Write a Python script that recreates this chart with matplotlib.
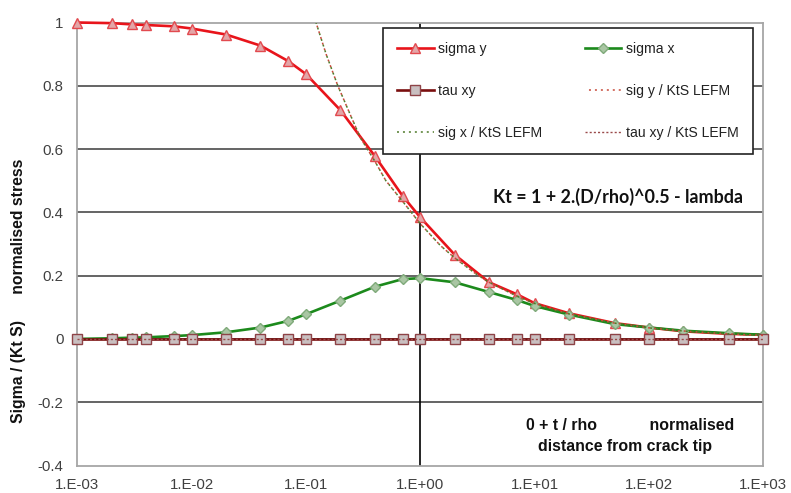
import matplotlib
matplotlib.use("Agg")
import matplotlib.pyplot as plt
from matplotlib.ticker import FixedLocator, NullLocator

plt.rcParams['font.family'] = ['Liberation Sans', 'DejaVu Sans']

# normalised distance from crack tip, t / rho
x = [0.001, 0.002, 0.003, 0.004, 0.007, 0.01, 0.02, 0.04, 0.07, 0.1, 0.2, 0.4,
     0.7, 1, 2, 4, 7, 10, 20, 50, 100, 200, 500, 1000]
sigma_y = [1.0, 0.998, 0.994, 0.992, 0.988, 0.981, 0.962, 0.927, 0.878, 0.837,
           0.723, 0.578, 0.452, 0.384, 0.266, 0.179, 0.141, 0.113, 0.081, 0.050,
           0.036, 0.024, 0.016, 0.013]
sigma_x = [0.0, 0.002, 0.004, 0.005, 0.009, 0.012, 0.021, 0.036, 0.057, 0.078,
           0.121, 0.165, 0.189, 0.192, 0.179, 0.148, 0.123, 0.104, 0.077, 0.047,
           0.036, 0.026, 0.018, 0.013]
tau_xy = [0.0] * len(x)

# LEFM solution normalised by Kt.S
x_lefm = [0.1, 0.12, 0.15, 0.19, 0.25, 0.3, 0.4, 0.5, 0.7, 1, 1.5, 2, 3, 4, 7,
          10, 20, 50, 100, 200, 500, 1000]
sig_lefm = [1.11, 1.01, 0.90, 0.80, 0.70, 0.635, 0.562, 0.50, 0.435, 0.364,
            0.295, 0.256, 0.208, 0.179, 0.135, 0.112, 0.079, 0.050, 0.035,
            0.025, 0.016, 0.011]
tau_lefm = [0.0] * len(x)

x_ticks = [1e-3, 1e-2, 1e-1, 1e0, 1e1, 1e2, 1e3]
x_tick_labels = ["1.E-03", "1.E-02", "1.E-01", "1.E+00", "1.E+01", "1.E+02", "1.E+03"]
y_ticks = [-0.4, -0.2, 0, 0.2, 0.4, 0.6, 0.8, 1]
y_tick_labels = ["-0.4", "-0.2", "0", "0.2", "0.4", "0.6", "0.8", "1"]

W, H = 791, 493
fig = plt.figure(figsize=(W / 100, H / 100), dpi=100)
L, R, T, B = 77.3, 763.3, 22.5, 465.5
ax = fig.add_axes([L / W, 1 - B / H, (R - L) / W, (B - T) / H])

ax.set_xscale("log")
ax.set_xlim(1e-3, 1e3)
ax.set_ylim(-0.4, 1.0)

for yv in [0.8, 0.6, 0.4, 0.2, 0.0, -0.2]:
    ax.axhline(yv, color="#3a3a3a", lw=1.1, zorder=1)
ax.axvline(1.0, color="#000000", lw=1.2, zorder=1)

l_sy, = ax.plot(x, sigma_y, color="#E8141B", lw=1.9, marker="^", ms=7.5,
                mfc="#E3A6A8", mec="#E24A4F", mew=1.0, zorder=3, clip_on=False,
                label="sigma y")
l_sx, = ax.plot(x, sigma_x, color="#1C8A1C", lw=1.9, marker="D", ms=5.5,
                mfc="#A9C6A3", mec="#7FAA7A", mew=1.0, zorder=4, clip_on=False,
                label="sigma x")
l_t, = ax.plot(x, tau_xy, color="#7A0E0E", lw=1.9, marker="s", ms=7,
               mfc="#C9BFC0", mec="#8E4347", mew=1.0, zorder=5, clip_on=False,
               label="tau xy")
l_syl, = ax.plot(x_lefm, sig_lefm, color="#C84A3A", lw=1.1,
                 ls=(1.3, (1.3, 2.6)), zorder=6, label="sig y / KtS LEFM")
l_sxl, = ax.plot(x_lefm, sig_lefm, color="#4F7A2A", lw=1.1,
                 ls=(0, (1.3, 2.6)), zorder=6, label="sig x / KtS LEFM")
l_tl, = ax.plot(x, tau_lefm, color="#9A4A4A", lw=1.0,
                ls=(0, (1.5, 1.5)), zorder=6, label="tau xy / KtS LEFM")

ax.xaxis.set_major_locator(FixedLocator(x_ticks))
ax.xaxis.set_minor_locator(NullLocator())
ax.set_xticklabels(x_tick_labels)
ax.set_yticks(y_ticks)
ax.set_yticklabels(y_tick_labels)
ax.tick_params(axis="both", length=0, labelsize=10.8, colors="#404040")
ax.tick_params(axis="y", pad=10)
ax.tick_params(axis="x", pad=9)

for s in ax.spines.values():
    s.set_color("#A6A6A6")
    s.set_linewidth(1.3)
    s.set_zorder(2)

handles = [l_sy, l_t, l_sxl, l_sx, l_syl, l_tl]
leg = ax.legend(handles=handles, labels=[h.get_label() for h in handles],
                ncol=2, loc="upper left",
                bbox_to_anchor=((383 - L) / (R - L), 1 - (28.3 - T) / (B - T)),
                fontsize=10.1, frameon=True, fancybox=False, framealpha=1,
                edgecolor="#222222", borderpad=1.0, labelspacing=1.97,
                handlelength=2.6, handletextpad=0.35, columnspacing=3.0,
                borderaxespad=0)
leg.get_frame().set_linewidth(1.2)
leg.set_zorder(10)
for t in leg.get_texts():
    t.set_color("#222222")

px = lambda xp, yp: (xp / W, 1 - yp / H)
fig.text(*px(19, 291), "Sigma / (Kt S)      normalised stress", rotation=90,
         ha="center", va="center", fontsize=11.3, fontweight="bold", color="#111111")
fig.text(*px(493, 197), "Kt = 1 + 2.(D/rho)^0.5 - lambda", ha="left", va="center",
         fontsize=12.9, fontweight="bold", family=["Lato", "DejaVu Sans"], color="#111111")
fig.text(*px(630, 426), "0 + t / rho            normalised", ha="center", va="center",
         fontsize=11.4, fontweight="bold", color="#111111")
fig.text(*px(625, 446), "distance from crack tip", ha="center", va="center",
         fontsize=11.4, fontweight="bold", color="#111111")

fig.savefig("out.png", dpi=100, facecolor="white")
